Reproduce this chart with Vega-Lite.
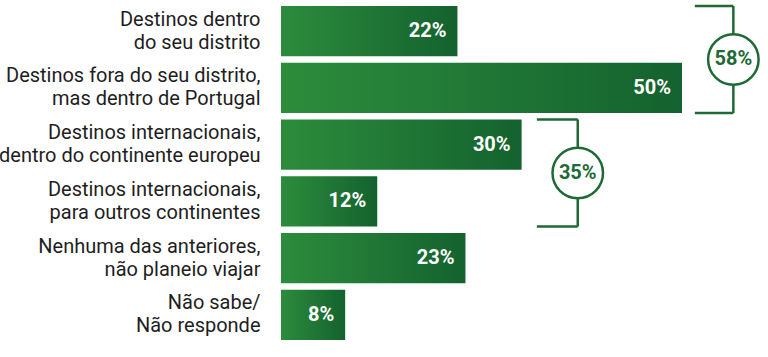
{
  "$schema": "https://vega.github.io/schema/vega-lite/v6.json",
  "autosize": {"type": "none"},
  "width": 487,
  "height": 340.6,
  "padding": {"left": 281, "top": 2.7, "right": 0, "bottom": 0},
  "background": "white",
  "config": {"view": {"stroke": null}, "font": "Roboto"},
  "datasets": {
    "bars": [
      {"cat": "Destinos dentro|do seu distrito", "v": 22, "label": "22%"},
      {"cat": "Destinos fora do seu distrito,|mas dentro de Portugal", "v": 50, "label": "50%"},
      {"cat": "Destinos internacionais,|dentro do continente europeu", "v": 30, "label": "30%"},
      {"cat": "Destinos internacionais,|para outros continentes", "v": 12, "label": "12%"},
      {"cat": "Nenhuma das anteriores,|não planeio viajar", "v": 23, "label": "23%"},
      {"cat": "Não sabe/|Não responde", "v": 8, "label": "8%"}
    ],
    "brackets": [
      {"grupo": "G1", "xs": 51.6, "xv": 56.4, "label": "58%"},
      {"grupo": "G2", "xs": 31.9, "xv": 37.0, "label": "35%"}
    ]
  },
  "layer": [
    {
      "data": {"name": "bars"},
      "encoding": {
        "y": {"field": "cat", "type": "nominal", "sort": null, "title": null,
              "scale": {"type": "band", "paddingInner": 0.117, "paddingOuter": 0.0585},
              "axis": {"domain": false, "ticks": false, "labelPadding": 21, "labelFontSize": 20, "labelColor": "#1e1e1e", "labelLineHeight": 23, "labelBaseline": "middle", "labelOffset": -11.5, "labelExpr": "split(datum.label, '|')", "labelLimit": 300, "labelFont": "Roboto"}},
        "x": {"field": "v", "type": "quantitative", "scale": {"domain": [0, 60.72], "nice": false}, "axis": null}
      },
      "layer": [
        {
          "mark": {"type": "bar", "color": {"gradient": "linear", "x1": 0, "y1": 0, "x2": 1, "y2": 0, "stops": [{"offset": 0, "color": "#2c8c3c"}, {"offset": 1, "color": "#14622f"}]}}
        },
        {
          "mark": {"type": "text", "align": "right", "baseline": "middle", "dx": -11, "color": "white", "fontWeight": "bold", "fontSize": 20, "font": "Roboto"},
          "encoding": {"text": {"field": "label"}}
        }
      ]
    },
    {
      "data": {"name": "brackets"},
      "encoding": {
        "y": {"field": "grupo", "type": "nominal", "scale": {"type": "band", "domain": ["G1", "G2", "G3"], "paddingInner": 0.0585, "paddingOuter": 0.02925}, "axis": null}
      },
      "layer": [
        {
          "mark": {"type": "rule", "color": "#1d6a34", "strokeWidth": 2.5},
          "encoding": {
            "y": {"field": "grupo", "type": "nominal", "bandPosition": 0, "scale": {"type": "band", "domain": ["G1", "G2", "G3"], "paddingInner": 0.0585, "paddingOuter": 0.02925}, "axis": null},
            "x": {"field": "xs", "type": "quantitative"},
            "x2": {"field": "xv"}
          }
        },
        {
          "mark": {"type": "rule", "color": "#1d6a34", "strokeWidth": 2.5},
          "encoding": {
            "y": {"field": "grupo", "type": "nominal", "bandPosition": 1, "axis": null},
            "x": {"field": "xs", "type": "quantitative"},
            "x2": {"field": "xv"}
          }
        },
        {
          "mark": {"type": "bar", "fill": null, "stroke": "#1d6a34", "strokeWidth": 2.5},
          "encoding": {
            "x": {"field": "xv", "type": "quantitative"},
            "x2": {"field": "xv"}
          }
        },
        {
          "mark": {"type": "point", "shape": "circle", "size": 2550, "filled": false, "fill": "white", "fillOpacity": 1, "stroke": "#1d6a34", "strokeWidth": 2.5, "opacity": 1},
          "encoding": {
            "x": {"field": "xv", "type": "quantitative"}
          }
        },
        {
          "mark": {"type": "text", "align": "center", "baseline": "middle", "color": "#1d6a34", "fontWeight": "bold", "fontSize": 20, "font": "Roboto"},
          "encoding": {
            "x": {"field": "xv", "type": "quantitative"},
            "text": {"field": "label"}
          }
        }
      ]
    }
  ],
  "resolve": {"scale": {"y": "independent"}}
}
